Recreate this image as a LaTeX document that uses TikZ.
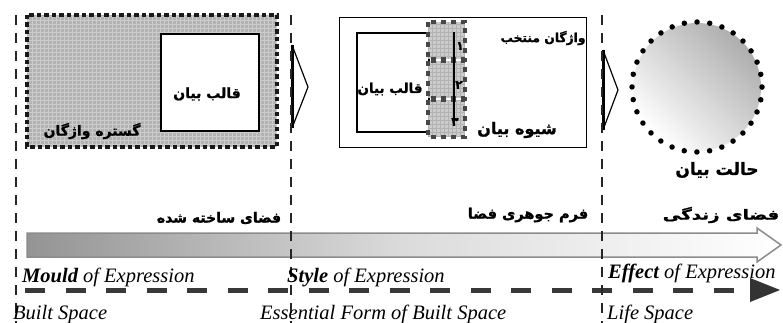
\documentclass[tikz,border=0pt]{standalone}
\usepackage{fontspec}
\usepackage{graphicx}
\setmainfont{Liberation Serif}
\newfontfamily\fa[Script=Arabic, BoldFeatures={FakeBold=1.2}]{DejaVu Sans}
\TeXXeTstate=1
\begin{document}
\begin{tikzpicture}[x=1pt,y=-1pt,
  fa/.style={font=\fa\bfseries\fontsize{#1}{#1}\selectfont, inner sep=0pt},
  en/.style={font=\itshape\fontsize{20.5}{22}\selectfont, inner sep=0pt, anchor=base west},
  vdash/.style={draw=black!85, line width=2.5pt, dash pattern=on 10pt off 8pt},
  sqdots/.style={draw=black!90, line width=4.5pt, dash pattern=on 4.5pt off 3pt},
  smalldots/.style={draw=black!72, line width=3.5pt, dash pattern=on 5pt off 5pt},
  frame/.style={draw=black, line width=2.4pt, fill=white},
  tri/.style={draw=black, line width=1.2pt, line join=miter},
  gridl/.style={draw=black!20, line width=0.6pt}
]
\useasboundingbox (0,0) rectangle (783,323);

% ---- left region: word range box
\begin{scope}
  \clip (27,15) rectangle (277,147);
  \fill[black!30] (27,15) rectangle (277,147);
  \draw[gridl] (27,15) grid[step=4pt] (277,147);
\end{scope}
\draw[sqdots] (27,15) rectangle (277,147);
\node[frame, minimum width=98pt, minimum height=97pt, anchor=north west] (mouldL) at (160,33) {};
\node[fa=14] (mouldLt) at (207,94) {\beginR قالب بیان\endR};
\node[fa=14] (range) at (92,131) {\beginR گستره واژگان\endR};

% ---- middle region: style box
\node[draw=black, line width=1.2pt, minimum width=247pt, minimum height=130pt, anchor=north west, inner sep=0pt] (stylebox) at (339,17) {};
\node[draw=black, line width=2.2pt, minimum width=72pt, minimum height=99pt, anchor=north west, inner sep=0pt] (mouldM) at (356,32) {};
\node[fa=13.5] (mouldMt) at (390,89) {\beginR قالب بیان\endR};
\foreach \yy/\nm in {22/sqa,61/sqb,100/sqc}{
  \begin{scope}
    \clip (428,\yy) rectangle (465,\yy+37);
    \fill[black!20] (428,\yy) rectangle (465,\yy+37);
    \draw[draw=black!30, line width=0.6pt] (428,\yy) grid[step=4pt] (465,\yy+37);
  \end{scope}
  \draw[smalldots] (428,\yy) rectangle (465,\yy+37);
  \coordinate (\nm) at (446.5,\yy+18.5);
}
\coordinate (vtop) at (454,32);
\coordinate (vbot) at (454,125);
\draw[line width=1.2pt] (vtop) -- (vbot);
\node[fa=12] (d1) at (460,46) {۱};
\node[fa=12] (d2) at (459,85) {۲};
\node[fa=12] (d3) at (455,122) {۳};
\node[fa=12.3] (chosen) at (543,38) {\beginR واژگان منتخب\endR};
\node[fa=16] (style) at (517,130) {\beginR شیوه بیان\endR};

% ---- right region: circle
\shade[top color=black!32, bottom color=white, shading angle=-45] (697,87) circle (64);
\node[circle, minimum size=130pt, inner sep=0pt, draw=black, line width=5.5pt, line cap=round, dash pattern=on 0pt off 12.76pt] (effect) at (697,87) {};
\node[fa=17] (effectt) at (717,170) {\beginR حالت بیان\endR};

% ---- triangles
\draw[tri] (292,45) -- (308,87) -- (292,128);
\draw[line width=3pt] (292,45) -- (292,128);
\draw[tri] (603,50) -- (618,90) -- (603,130);
\draw[line width=3pt] (603,50) -- (603,130);

% ---- gradient arrow
\draw[draw=black!45, line width=1.5pt, left color=black!42, right color=white, middle color=black!14]
  (27,233) -- (757,233) -- (757,228) -- (781,245) -- (757,262) -- (757,257) -- (27,257) -- cycle;

% ---- bottom dashed arrow
\coordinate (dstart) at (25,290);
\coordinate (dend) at (752,290);
\draw[draw=black!78, line width=5pt, dash pattern=on 20pt off 20.5pt] (dstart) -- (dend);
\fill[black!80] (750,278) -- (780,290) -- (750,302) -- cycle;

% ---- vertical dashed lines
\draw[vdash] (16,15) -- (16,323);
\draw[vdash] (291,15) -- (291,323);
\draw[vdash] (602,15) -- (602,323);

% ---- Persian labels above arrow
\node[fa=14] (built) at (219,218) {\beginR فضای ساخته شده\endR};
\node[fa=14.5] (essential) at (528,215) {\beginR فرم جوهری فضا\endR};
\node[fa=14] (life) at (721,215) {\scalebox{1.3}[1]{\beginR فضای زندگی\endR}};

% ---- English labels
\node[en] (e1) at (22,282) {\textbf{Mould} of Expression};
\node[en] (e2) at (287,282) {\textbf{Style} of Expression};
\node[en] (e3) at (608,278) {\textbf{Effect} of Expression};
\node[en] (b1) at (13,319) {Built Space};
\node[en] (b2) at (260,319) {Essential Form of Built Space};
\node[en] (b3) at (607,319) {Life Space};
\end{tikzpicture}
\end{document}
